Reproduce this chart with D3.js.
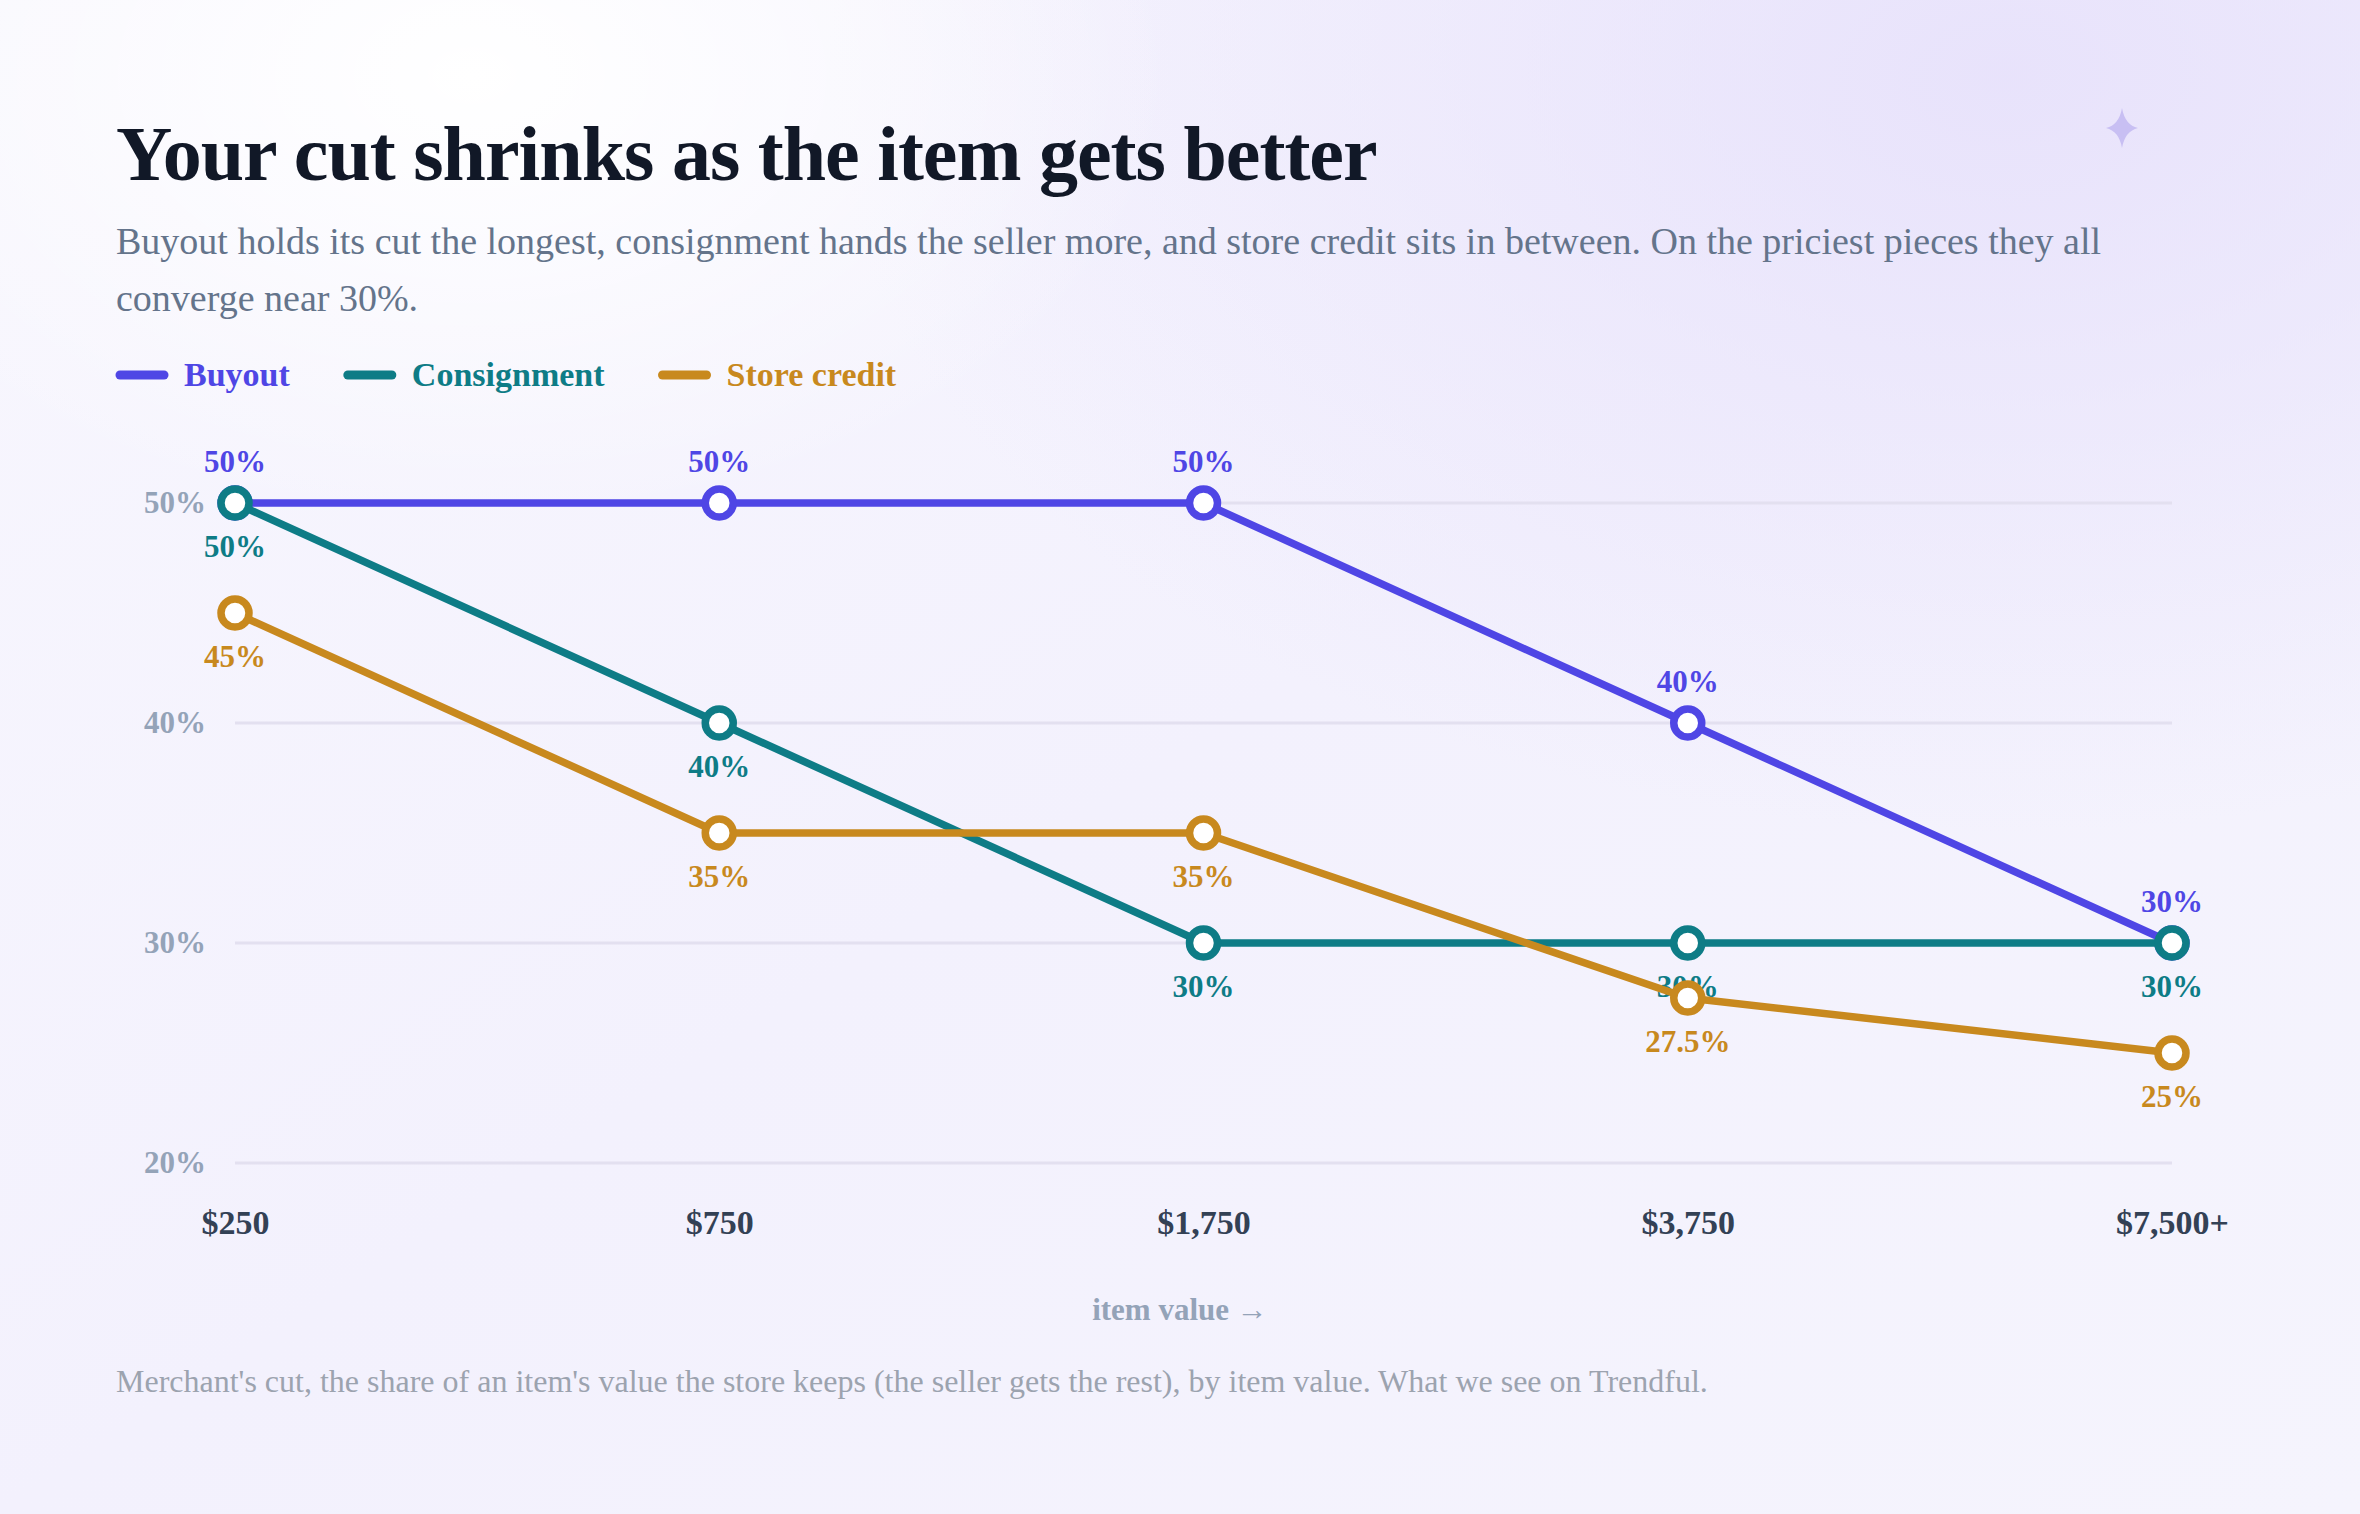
<!DOCTYPE html>
<html><head><meta charset="utf-8">
<script src="https://cdn.jsdelivr.net/npm/d3@7"></script>
<style>html,body{margin:0;padding:0;}svg{display:block;font-family:"Liberation Serif","DejaVu Serif",serif;}</style>
</head><body>
<script>
const categories = ["$250","$750","$1,750","$3,750","$7,500+"];
const buyout = [50,50,50,40,30];
const consignment = [50,40,30,30,30];
const storeCredit = [45,35,35,27.5,25];
const yTicks = [20,30,40,50];
const seriesNames = ["Buyout","Consignment","Store credit"];
const seriesColors = ["#4f46e5","#0e7c86","#c8891e"];
const series = [
  {name:seriesNames[0], values:buyout, color:seriesColors[0], pos:"above"},
  {name:seriesNames[1], values:consignment, color:seriesColors[1], pos:"below"},
  {name:seriesNames[2], values:storeCredit, color:seriesColors[2], pos:"below"}
];
const W=2360,H=1514;
const svg=d3.select("body").append("svg").attr("width",W).attr("height",H);
const defs=svg.append("defs");
const lg=defs.append("linearGradient").attr("id","bg").attr("x1","0").attr("y1","0").attr("x2","1").attr("y2","1");
lg.append("stop").attr("offset","0").attr("stop-color","#f8f7fe");
lg.append("stop").attr("offset","0.5").attr("stop-color","#f3f1fd");
lg.append("stop").attr("offset","1").attr("stop-color","#f5f4fd");
const rg=defs.append("radialGradient").attr("id","glow").attr("cx","0.85").attr("cy","0.05").attr("r","0.5");
rg.append("stop").attr("offset","0").attr("stop-color","#e6e0fb").attr("stop-opacity",0.85);
rg.append("stop").attr("offset","1").attr("stop-color","#e6e0fb").attr("stop-opacity",0);
const rg2=defs.append("radialGradient").attr("id","white").attr("cx","0.2").attr("cy","0.05").attr("r","0.3");
rg2.append("stop").attr("offset","0").attr("stop-color","#ffffff").attr("stop-opacity",1);
rg2.append("stop").attr("offset","1").attr("stop-color","#ffffff").attr("stop-opacity",0);
svg.append("rect").attr("width",W).attr("height",H).attr("fill","url(#bg)");
svg.append("rect").attr("width",W).attr("height",H).attr("fill","url(#glow)");
svg.append("rect").attr("width",W).attr("height",H).attr("fill","url(#white)");
svg.append("path").attr("d","M2122,108 Q2125,125 2138,128 Q2125,131 2122,148 Q2119,131 2106,128 Q2119,125 2122,108Z").attr("fill","#c8bff3");

svg.append("text").attr("x",116).attr("y",180).attr("font-size",78).attr("font-weight","bold").attr("fill","#111827").attr("letter-spacing",-1).text("Your cut shrinks as the item gets better");
const sub=["Buyout holds its cut the longest, consignment hands the seller more, and store credit sits in between. On the priciest pieces they all","converge near 30%."];
sub.forEach((s,i)=>svg.append("text").attr("x",116).attr("y",254+i*57).attr("font-size",38).attr("fill","#64748b").text(s));

let lx=116;
series.forEach(s=>{
  svg.append("line").attr("x1",lx+4).attr("x2",lx+48).attr("y1",375).attr("y2",375).attr("stroke",s.color).attr("stroke-width",9).attr("stroke-linecap","round");
  const t=svg.append("text").attr("x",lx+68).attr("y",386).attr("font-size",34).attr("font-weight","bold").attr("fill",s.color).text(s.name);
  lx+=68+t.node().getComputedTextLength()+54;
});

const x=d3.scalePoint().domain(categories).range([235,2172]);
const y=d3.scaleLinear().domain([20,50]).range([1163,503]);
const g=svg.append("g");
g.selectAll("line.grid").data(yTicks).join("line").attr("x1",235).attr("x2",2172).attr("y1",d=>y(d)).attr("y2",d=>y(d)).attr("stroke","#e3e0f0").attr("stroke-width",3);
const yAxis=g.append("g").attr("transform","translate(235,0)").call(d3.axisLeft(y).tickValues(yTicks).tickFormat(d=>d+"%").tickSize(0).tickPadding(29));
yAxis.select(".domain").remove();
yAxis.selectAll("text").attr("font-size",31).attr("font-weight","bold").attr("fill","#94a3b8").attr("font-family","Liberation Serif");
const xAxis=g.append("g").attr("transform","translate(0,1210)").call(d3.axisBottom(x).tickSize(0).tickPadding(0));
xAxis.select(".domain").remove();
xAxis.selectAll("text").attr("font-size",34).attr("font-weight","bold").attr("fill","#334155").attr("font-family","Liberation Serif");
svg.append("text").attr("x",1180).attr("y",1320).attr("text-anchor","middle").attr("font-size",31).attr("font-weight","bold").attr("fill","#94a3b8").text("item value →");
svg.append("text").attr("x",116).attr("y",1392).attr("font-size",32).attr("fill","#9ca3af").text("Merchant's cut, the share of an item's value the store keeps (the seller gets the rest), by item value. What we see on Trendful.");

const line=d3.line().x((d,i)=>x(categories[i])).y(d=>y(d));
series.forEach(s=>{
  g.append("path").datum(s.values).attr("d",line).attr("fill","none").attr("stroke",s.color).attr("stroke-width",7.5).attr("stroke-linejoin","round");
  g.selectAll(null).data(s.values).join("circle").attr("cx",(d,i)=>x(categories[i])).attr("cy",d=>y(d)).attr("r",14).attr("fill","#fff").attr("stroke",s.color).attr("stroke-width",7.5);
  g.selectAll(null).data(s.values).join("text").attr("x",(d,i)=>x(categories[i])).attr("y",d=>y(d)+(s.pos==="above"?-31:54)).attr("text-anchor","middle").attr("font-size",31).attr("font-weight","bold").attr("fill",s.color).text(d=>d+"%");
});
</script>
</body></html>
